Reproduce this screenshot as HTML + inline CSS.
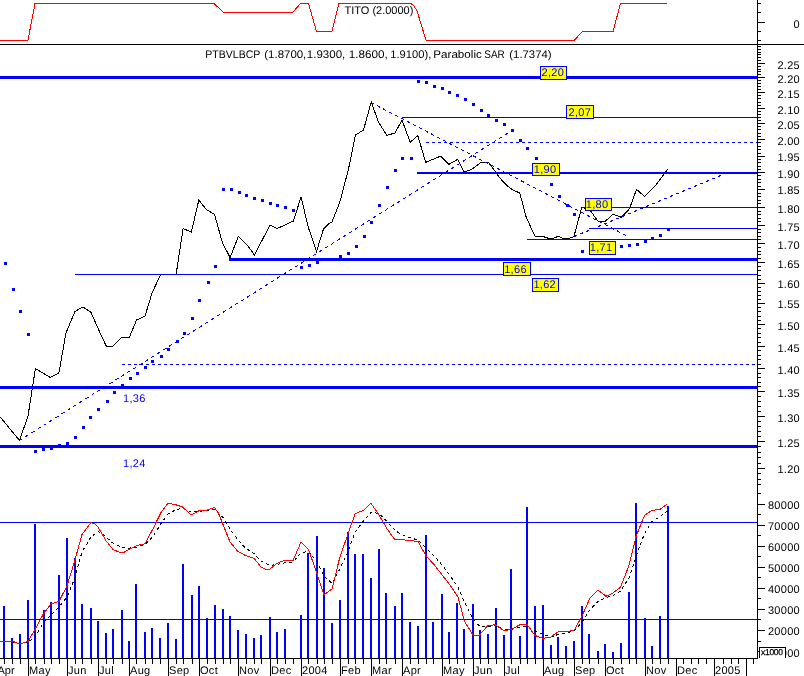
<!DOCTYPE html>
<html><head><meta charset="utf-8"><title>PTBVLBCP chart</title>
<style>
html,body{margin:0;padding:0;background:#fff;overflow:hidden}
svg{display:block;shape-rendering:crispEdges;text-rendering:geometricPrecision}
text{font-family:"Liberation Sans",Arial,sans-serif;fill:#000}
.ax{font-size:11px}
.lb{font-size:11px}
.sm{font-size:8.5px;stroke:#000;stroke-width:0.25px}
.an{letter-spacing:0.3px}
</style></head><body>
<svg width="804" height="676" viewBox="0 0 804 676">
<rect width="804" height="676" fill="#fff"/>
<polyline points="0.00,40.00 28.00,40.00 35.00,3.50 214.00,3.50 223.00,12.00 293.00,12.00 300.50,3.50 308.50,3.50 316.50,31.50 332.00,31.50 339.00,3.50 411.00,3.50 414.00,6.00 417.00,11.00 421.00,24.00 426.00,40.00 574.50,40.00 582.50,31.50 613.00,31.50 620.50,3.50 667.00,3.50" fill="none" stroke="#ff0000" stroke-width="1"/>
<rect x="0" y="44" width="804" height="1" fill="#000"/>
<rect x="758" y="3" width="3" height="1" fill="#000"/>
<rect x="758" y="12" width="3" height="1" fill="#000"/>
<rect x="758" y="22" width="7" height="1" fill="#000"/>
<rect x="758" y="31" width="3" height="1" fill="#000"/>
<rect x="758" y="40" width="3" height="1" fill="#000"/>
<polyline points="0.00,416.75 19.50,440.50 28.00,416.00 35.40,368.60 50.40,377.50 58.90,373.00 66.00,332.80 75.00,311.50 82.80,307.00 90.70,311.90 98.50,329.40 106.30,346.20 113.00,346.20 121.60,337.70 129.20,337.70 136.60,320.00 145.00,316.00 152.20,292.50 160.70,274.50 176.10,274.50 183.10,228.50 191.30,232.20 198.80,200.10 206.70,209.90 214.50,214.30 222.40,242.70 230.10,257.60 238.40,236.40 247.00,244.90 254.50,255.00 270.00,225.00 277.00,228.50 285.00,225.00 293.50,221.00 301.00,197.00 308.50,228.00 316.50,251.50 323.50,229.00 328.50,224.00 332.00,222.00 340.00,201.50 348.50,169.00 355.50,135.00 363.50,130.00 371.20,102.00 378.70,122.60 386.90,135.30 395.00,133.00 402.00,120.00 410.20,142.20 417.80,135.60 425.70,162.30 440.80,156.10 449.00,164.40 457.70,159.30 464.00,172.00 472.00,169.20 480.00,163.00 488.40,162.40 495.00,171.00 498.00,175.60 502.50,181.00 507.00,185.60 512.00,189.50 519.80,193.00 526.20,217.20 535.00,236.30 543.60,236.70 549.00,238.50 553.30,238.50 558.00,236.30 563.70,238.50 568.20,238.50 573.90,236.60 581.60,207.90 585.60,208.10 590.60,210.90 598.00,221.30 605.20,221.30 613.00,214.20 621.20,217.30 629.50,208.80 636.50,189.30 644.50,196.40 655.40,185.50 667.80,169.00" fill="none" stroke="#000" stroke-width="1"/>
<rect x="4" y="262" width="3" height="3" fill="#0000ff"/>
<rect x="12" y="288" width="3" height="3" fill="#0000ff"/>
<rect x="19" y="310" width="3" height="3" fill="#0000ff"/>
<rect x="27" y="333" width="3" height="3" fill="#0000ff"/>
<rect x="34" y="450" width="3" height="3" fill="#0000ff"/>
<rect x="42" y="448" width="3" height="3" fill="#0000ff"/>
<rect x="50" y="447" width="3" height="3" fill="#0000ff"/>
<rect x="58" y="444" width="3" height="3" fill="#0000ff"/>
<rect x="66" y="442" width="3" height="3" fill="#0000ff"/>
<rect x="74" y="436" width="3" height="3" fill="#0000ff"/>
<rect x="82" y="426" width="3" height="3" fill="#0000ff"/>
<rect x="89" y="416" width="3" height="3" fill="#0000ff"/>
<rect x="97" y="408" width="3" height="3" fill="#0000ff"/>
<rect x="106" y="400" width="3" height="3" fill="#0000ff"/>
<rect x="113" y="391" width="3" height="3" fill="#0000ff"/>
<rect x="121" y="384" width="3" height="3" fill="#0000ff"/>
<rect x="129" y="377" width="3" height="3" fill="#0000ff"/>
<rect x="136" y="372" width="3" height="3" fill="#0000ff"/>
<rect x="144" y="366" width="3" height="3" fill="#0000ff"/>
<rect x="151" y="360" width="3" height="3" fill="#0000ff"/>
<rect x="160" y="355" width="3" height="3" fill="#0000ff"/>
<rect x="167" y="348" width="3" height="3" fill="#0000ff"/>
<rect x="176" y="340" width="3" height="3" fill="#0000ff"/>
<rect x="183" y="332" width="3" height="3" fill="#0000ff"/>
<rect x="191" y="317" width="3" height="3" fill="#0000ff"/>
<rect x="198" y="299" width="3" height="3" fill="#0000ff"/>
<rect x="207" y="281" width="3" height="3" fill="#0000ff"/>
<rect x="214" y="265" width="3" height="3" fill="#0000ff"/>
<rect x="222" y="188" width="3" height="3" fill="#0000ff"/>
<rect x="230" y="188" width="3" height="3" fill="#0000ff"/>
<rect x="238" y="191" width="3" height="3" fill="#0000ff"/>
<rect x="245" y="194" width="3" height="3" fill="#0000ff"/>
<rect x="253" y="197" width="3" height="3" fill="#0000ff"/>
<rect x="261" y="199" width="3" height="3" fill="#0000ff"/>
<rect x="269" y="202" width="3" height="3" fill="#0000ff"/>
<rect x="276" y="204" width="3" height="3" fill="#0000ff"/>
<rect x="284" y="206" width="3" height="3" fill="#0000ff"/>
<rect x="292" y="209" width="3" height="3" fill="#0000ff"/>
<rect x="300" y="266" width="3" height="3" fill="#0000ff"/>
<rect x="308" y="264" width="3" height="3" fill="#0000ff"/>
<rect x="316" y="261" width="3" height="3" fill="#0000ff"/>
<rect x="324" y="258" width="3" height="3" fill="#0000ff"/>
<rect x="331" y="258" width="3" height="3" fill="#0000ff"/>
<rect x="339" y="255" width="3" height="3" fill="#0000ff"/>
<rect x="347" y="252" width="3" height="3" fill="#0000ff"/>
<rect x="355" y="245" width="3" height="3" fill="#0000ff"/>
<rect x="363" y="235" width="3" height="3" fill="#0000ff"/>
<rect x="370" y="221" width="3" height="3" fill="#0000ff"/>
<rect x="378" y="204" width="3" height="3" fill="#0000ff"/>
<rect x="386" y="186" width="3" height="3" fill="#0000ff"/>
<rect x="394" y="169" width="3" height="3" fill="#0000ff"/>
<rect x="401" y="157" width="3" height="3" fill="#0000ff"/>
<rect x="410" y="157" width="3" height="3" fill="#0000ff"/>
<rect x="417" y="80" width="3" height="3" fill="#0000ff"/>
<rect x="425" y="81" width="3" height="3" fill="#0000ff"/>
<rect x="433" y="85" width="3" height="3" fill="#0000ff"/>
<rect x="441" y="87" width="3" height="3" fill="#0000ff"/>
<rect x="448" y="91" width="3" height="3" fill="#0000ff"/>
<rect x="456" y="94" width="3" height="3" fill="#0000ff"/>
<rect x="464" y="98" width="3" height="3" fill="#0000ff"/>
<rect x="472" y="103" width="3" height="3" fill="#0000ff"/>
<rect x="480" y="109" width="3" height="3" fill="#0000ff"/>
<rect x="487" y="114" width="3" height="3" fill="#0000ff"/>
<rect x="495" y="119" width="3" height="3" fill="#0000ff"/>
<rect x="503" y="123" width="3" height="3" fill="#0000ff"/>
<rect x="511" y="129" width="3" height="3" fill="#0000ff"/>
<rect x="519" y="139" width="3" height="3" fill="#0000ff"/>
<rect x="526" y="147" width="3" height="3" fill="#0000ff"/>
<rect x="535" y="157" width="3" height="3" fill="#0000ff"/>
<rect x="543" y="170" width="3" height="3" fill="#0000ff"/>
<rect x="550" y="183" width="3" height="3" fill="#0000ff"/>
<rect x="558" y="195" width="3" height="3" fill="#0000ff"/>
<rect x="566" y="204" width="3" height="3" fill="#0000ff"/>
<rect x="573" y="213" width="3" height="3" fill="#0000ff"/>
<rect x="581" y="250" width="3" height="3" fill="#0000ff"/>
<rect x="589" y="249" width="3" height="3" fill="#0000ff"/>
<rect x="597" y="248" width="3" height="3" fill="#0000ff"/>
<rect x="605" y="247" width="3" height="3" fill="#0000ff"/>
<rect x="612" y="246" width="3" height="3" fill="#0000ff"/>
<rect x="620" y="245" width="3" height="3" fill="#0000ff"/>
<rect x="628" y="244" width="3" height="3" fill="#0000ff"/>
<rect x="636" y="243" width="3" height="3" fill="#0000ff"/>
<rect x="644" y="240" width="3" height="3" fill="#0000ff"/>
<rect x="651" y="237" width="3" height="3" fill="#0000ff"/>
<rect x="659" y="234" width="3" height="3" fill="#0000ff"/>
<rect x="667" y="228" width="3" height="3" fill="#0000ff"/>
<rect x="0" y="76" width="757" height="3" fill="#0000ff"/>
<rect x="402" y="117" width="355" height="1" fill="#0000ff"/>
<line x1="426" y1="142.5" x2="757" y2="142.5" stroke="#0000ff" stroke-width="1" stroke-dasharray="3 3"/>
<rect x="417" y="172" width="340" height="2" fill="#0000ff"/>
<rect x="582" y="207" width="175" height="1" fill="#0000ff"/>
<rect x="589" y="228" width="168" height="1" fill="#0000ff"/>
<rect x="527" y="239" width="230" height="1" fill="#0000ff"/>
<rect x="229" y="258" width="528" height="3" fill="#0000ff"/>
<rect x="75" y="274" width="682" height="1" fill="#0000ff"/>
<line x1="122" y1="364.5" x2="757" y2="364.5" stroke="#0000ff" stroke-width="1" stroke-dasharray="3 3"/>
<rect x="0" y="386" width="757" height="3" fill="#0000ff"/>
<rect x="0" y="445" width="757" height="3" fill="#0000ff"/>
<line x1="19.5" y1="440.5" x2="512" y2="130.5" stroke="#0000ff" stroke-width="1" stroke-dasharray="3.54 3.54"/>
<line x1="371" y1="102.5" x2="626" y2="235.5" stroke="#0000ff" stroke-width="1" stroke-dasharray="3.38 3.38"/>
<line x1="574" y1="236.6" x2="725.5" y2="173.5" stroke="#0000ff" stroke-width="1" stroke-dasharray="3.25 3.25"/>
<rect x="540.5" y="66.5" width="26" height="13" fill="#ffff00" stroke="#0000ff" stroke-width="1"/>
<text x="541.5" y="76" class="lb an" style="fill:#0000ff">2,20</text>
<rect x="566.5" y="105.5" width="27" height="13" fill="#ffff00" stroke="#0000ff" stroke-width="1"/>
<text x="568.5" y="116" class="lb an" style="fill:#0000ff">2,07</text>
<rect x="532.5" y="163.5" width="27" height="12" fill="#ffff00" stroke="#0000ff" stroke-width="1"/>
<text x="533.8" y="173" class="lb an" style="fill:#0000ff">1,90</text>
<rect x="585.5" y="198.5" width="26" height="12" fill="#ffff00" stroke="#0000ff" stroke-width="1"/>
<text x="585.8" y="208" class="lb an" style="fill:#0000ff">1,80</text>
<rect x="589.5" y="241.5" width="26" height="13" fill="#ffff00" stroke="#0000ff" stroke-width="1"/>
<text x="589.8" y="251" class="lb an" style="fill:#0000ff">1,71</text>
<rect x="503.5" y="262.5" width="27" height="13" fill="#ffff00" stroke="#0000ff" stroke-width="1"/>
<text x="504.2" y="273" class="lb an" style="fill:#0000ff">1,66</text>
<rect x="532.5" y="278.5" width="26" height="13" fill="#ffff00" stroke="#0000ff" stroke-width="1"/>
<text x="533.4" y="288" class="lb an" style="fill:#0000ff">1,62</text>
<text x="123" y="402" class="lb an" style="fill:#0000ff">1,36</text>
<text x="123" y="467" class="lb an" style="fill:#0000ff">1,24</text>
<rect x="757" y="0" width="1" height="659" fill="#000"/>
<rect x="758" y="484" width="3" height="1" fill="#000"/>
<rect x="758" y="479" width="3" height="1" fill="#000"/>
<rect x="758" y="473" width="3" height="1" fill="#000"/>
<rect x="758" y="468" width="7" height="1" fill="#000"/>
<text x="800" y="473" text-anchor="end" class="ax an">1.20</text>
<rect x="758" y="463" width="3" height="1" fill="#000"/>
<rect x="758" y="457" width="3" height="1" fill="#000"/>
<rect x="758" y="452" width="3" height="1" fill="#000"/>
<rect x="758" y="446" width="3" height="1" fill="#000"/>
<rect x="758" y="441" width="7" height="1" fill="#000"/>
<text x="800" y="447" text-anchor="end" class="ax an">1.25</text>
<rect x="758" y="436" width="3" height="1" fill="#000"/>
<rect x="758" y="431" width="3" height="1" fill="#000"/>
<rect x="758" y="426" width="3" height="1" fill="#000"/>
<rect x="758" y="421" width="3" height="1" fill="#000"/>
<rect x="758" y="416" width="7" height="1" fill="#000"/>
<text x="800" y="422" text-anchor="end" class="ax an">1.30</text>
<rect x="758" y="411" width="3" height="1" fill="#000"/>
<rect x="758" y="406" width="3" height="1" fill="#000"/>
<rect x="758" y="401" width="3" height="1" fill="#000"/>
<rect x="758" y="396" width="3" height="1" fill="#000"/>
<rect x="758" y="391" width="7" height="1" fill="#000"/>
<text x="800" y="397" text-anchor="end" class="ax an">1.35</text>
<rect x="758" y="386" width="3" height="1" fill="#000"/>
<rect x="758" y="382" width="3" height="1" fill="#000"/>
<rect x="758" y="377" width="3" height="1" fill="#000"/>
<rect x="758" y="373" width="3" height="1" fill="#000"/>
<rect x="758" y="368" width="7" height="1" fill="#000"/>
<text x="800" y="374" text-anchor="end" class="ax an">1.40</text>
<rect x="758" y="364" width="3" height="1" fill="#000"/>
<rect x="758" y="359" width="3" height="1" fill="#000"/>
<rect x="758" y="355" width="3" height="1" fill="#000"/>
<rect x="758" y="350" width="3" height="1" fill="#000"/>
<rect x="758" y="346" width="7" height="1" fill="#000"/>
<text x="800" y="352" text-anchor="end" class="ax an">1.45</text>
<rect x="758" y="342" width="3" height="1" fill="#000"/>
<rect x="758" y="337" width="3" height="1" fill="#000"/>
<rect x="758" y="333" width="3" height="1" fill="#000"/>
<rect x="758" y="328" width="3" height="1" fill="#000"/>
<rect x="758" y="324" width="7" height="1" fill="#000"/>
<text x="800" y="330" text-anchor="end" class="ax an">1.50</text>
<rect x="758" y="320" width="3" height="1" fill="#000"/>
<rect x="758" y="316" width="3" height="1" fill="#000"/>
<rect x="758" y="311" width="3" height="1" fill="#000"/>
<rect x="758" y="307" width="3" height="1" fill="#000"/>
<rect x="758" y="303" width="7" height="1" fill="#000"/>
<text x="800" y="308" text-anchor="end" class="ax an">1.55</text>
<rect x="758" y="299" width="3" height="1" fill="#000"/>
<rect x="758" y="295" width="3" height="1" fill="#000"/>
<rect x="758" y="291" width="3" height="1" fill="#000"/>
<rect x="758" y="287" width="3" height="1" fill="#000"/>
<rect x="758" y="283" width="7" height="1" fill="#000"/>
<text x="800" y="288" text-anchor="end" class="ax an">1.60</text>
<rect x="758" y="279" width="3" height="1" fill="#000"/>
<rect x="758" y="275" width="3" height="1" fill="#000"/>
<rect x="758" y="270" width="3" height="1" fill="#000"/>
<rect x="758" y="266" width="3" height="1" fill="#000"/>
<rect x="758" y="262" width="7" height="1" fill="#000"/>
<text x="800" y="268" text-anchor="end" class="ax an">1.65</text>
<rect x="758" y="258" width="3" height="1" fill="#000"/>
<rect x="758" y="254" width="3" height="1" fill="#000"/>
<rect x="758" y="251" width="3" height="1" fill="#000"/>
<rect x="758" y="247" width="3" height="1" fill="#000"/>
<rect x="758" y="243" width="7" height="1" fill="#000"/>
<text x="800" y="249" text-anchor="end" class="ax an">1.70</text>
<rect x="758" y="239" width="3" height="1" fill="#000"/>
<rect x="758" y="236" width="3" height="1" fill="#000"/>
<rect x="758" y="232" width="3" height="1" fill="#000"/>
<rect x="758" y="229" width="3" height="1" fill="#000"/>
<rect x="758" y="225" width="7" height="1" fill="#000"/>
<text x="800" y="231" text-anchor="end" class="ax an">1.75</text>
<rect x="758" y="221" width="3" height="1" fill="#000"/>
<rect x="758" y="218" width="3" height="1" fill="#000"/>
<rect x="758" y="214" width="3" height="1" fill="#000"/>
<rect x="758" y="211" width="3" height="1" fill="#000"/>
<rect x="758" y="207" width="7" height="1" fill="#000"/>
<text x="800" y="213" text-anchor="end" class="ax an">1.80</text>
<rect x="758" y="203" width="3" height="1" fill="#000"/>
<rect x="758" y="200" width="3" height="1" fill="#000"/>
<rect x="758" y="196" width="3" height="1" fill="#000"/>
<rect x="758" y="193" width="3" height="1" fill="#000"/>
<rect x="758" y="189" width="7" height="1" fill="#000"/>
<text x="800" y="194" text-anchor="end" class="ax an">1.85</text>
<rect x="758" y="186" width="3" height="1" fill="#000"/>
<rect x="758" y="182" width="3" height="1" fill="#000"/>
<rect x="758" y="179" width="3" height="1" fill="#000"/>
<rect x="758" y="175" width="3" height="1" fill="#000"/>
<rect x="758" y="172" width="7" height="1" fill="#000"/>
<text x="800" y="178" text-anchor="end" class="ax an">1.90</text>
<rect x="758" y="169" width="3" height="1" fill="#000"/>
<rect x="758" y="166" width="3" height="1" fill="#000"/>
<rect x="758" y="162" width="3" height="1" fill="#000"/>
<rect x="758" y="159" width="3" height="1" fill="#000"/>
<rect x="758" y="156" width="7" height="1" fill="#000"/>
<text x="800" y="161" text-anchor="end" class="ax an">1.95</text>
<rect x="758" y="153" width="3" height="1" fill="#000"/>
<rect x="758" y="149" width="3" height="1" fill="#000"/>
<rect x="758" y="146" width="3" height="1" fill="#000"/>
<rect x="758" y="142" width="3" height="1" fill="#000"/>
<rect x="758" y="139" width="7" height="1" fill="#000"/>
<text x="800" y="145" text-anchor="end" class="ax an">2.00</text>
<rect x="758" y="136" width="3" height="1" fill="#000"/>
<rect x="758" y="133" width="3" height="1" fill="#000"/>
<rect x="758" y="129" width="3" height="1" fill="#000"/>
<rect x="758" y="126" width="3" height="1" fill="#000"/>
<rect x="758" y="123" width="7" height="1" fill="#000"/>
<text x="800" y="129" text-anchor="end" class="ax an">2.05</text>
<rect x="758" y="120" width="3" height="1" fill="#000"/>
<rect x="758" y="117" width="3" height="1" fill="#000"/>
<rect x="758" y="114" width="3" height="1" fill="#000"/>
<rect x="758" y="111" width="3" height="1" fill="#000"/>
<rect x="758" y="108" width="7" height="1" fill="#000"/>
<text x="800" y="114" text-anchor="end" class="ax an">2.10</text>
<rect x="758" y="105" width="3" height="1" fill="#000"/>
<rect x="758" y="102" width="3" height="1" fill="#000"/>
<rect x="758" y="98" width="3" height="1" fill="#000"/>
<rect x="758" y="95" width="3" height="1" fill="#000"/>
<rect x="758" y="92" width="7" height="1" fill="#000"/>
<text x="800" y="98" text-anchor="end" class="ax an">2.15</text>
<rect x="758" y="89" width="3" height="1" fill="#000"/>
<rect x="758" y="86" width="3" height="1" fill="#000"/>
<rect x="758" y="83" width="3" height="1" fill="#000"/>
<rect x="758" y="80" width="3" height="1" fill="#000"/>
<rect x="758" y="77" width="7" height="1" fill="#000"/>
<text x="800" y="83" text-anchor="end" class="ax an">2.20</text>
<rect x="758" y="74" width="3" height="1" fill="#000"/>
<rect x="758" y="71" width="3" height="1" fill="#000"/>
<rect x="758" y="69" width="3" height="1" fill="#000"/>
<rect x="758" y="66" width="3" height="1" fill="#000"/>
<rect x="758" y="63" width="7" height="1" fill="#000"/>
<text x="800" y="69" text-anchor="end" class="ax an">2.25</text>
<rect x="758" y="60" width="3" height="1" fill="#000"/>
<rect x="758" y="57" width="3" height="1" fill="#000"/>
<rect x="758" y="54" width="3" height="1" fill="#000"/>
<rect x="758" y="52" width="3" height="1" fill="#000"/>
<rect x="758" y="49" width="3" height="1" fill="#000"/>
<rect x="758" y="46" width="3" height="1" fill="#000"/>
<text x="800" y="28" text-anchor="end" class="ax an">0</text>
<rect x="758" y="651" width="7" height="1" fill="#000"/>
<rect x="758" y="641" width="3" height="1" fill="#000"/>
<text x="800" y="657" text-anchor="end" class="ax an">10000</text>
<rect x="758" y="630" width="7" height="1" fill="#000"/>
<rect x="758" y="619" width="3" height="1" fill="#000"/>
<text x="800" y="635" text-anchor="end" class="ax an">20000</text>
<rect x="758" y="609" width="7" height="1" fill="#000"/>
<rect x="758" y="598" width="3" height="1" fill="#000"/>
<text x="800" y="614" text-anchor="end" class="ax an">30000</text>
<rect x="758" y="588" width="7" height="1" fill="#000"/>
<rect x="758" y="577" width="3" height="1" fill="#000"/>
<text x="800" y="593" text-anchor="end" class="ax an">40000</text>
<rect x="758" y="567" width="7" height="1" fill="#000"/>
<rect x="758" y="556" width="3" height="1" fill="#000"/>
<text x="800" y="572" text-anchor="end" class="ax an">50000</text>
<rect x="758" y="546" width="7" height="1" fill="#000"/>
<rect x="758" y="535" width="3" height="1" fill="#000"/>
<text x="800" y="551" text-anchor="end" class="ax an">60000</text>
<rect x="758" y="525" width="7" height="1" fill="#000"/>
<rect x="758" y="514" width="3" height="1" fill="#000"/>
<text x="800" y="530" text-anchor="end" class="ax an">70000</text>
<rect x="758" y="504" width="7" height="1" fill="#000"/>
<rect x="758" y="493" width="3" height="1" fill="#000"/>
<text x="800" y="509" text-anchor="end" class="ax an">80000</text>
<rect x="759" y="647" width="27" height="11" fill="#fff"/><path d="M759.5 658V647.5H785.5V658" fill="none" stroke="#000" stroke-width="1"/>
<text x="761" y="655" class="sm" textLength="22" lengthAdjust="spacing">x1000</text>
<rect x="0" y="522" width="757" height="1" fill="#0000ff"/>
<rect x="0" y="619" width="757" height="1" fill="#0000ff"/>
<rect x="3" y="606" width="2" height="52" fill="#0000ff"/>
<rect x="11" y="638" width="2" height="20" fill="#0000ff"/>
<rect x="19" y="634" width="2" height="24" fill="#0000ff"/>
<rect x="27" y="600" width="2" height="58" fill="#0000ff"/>
<rect x="34" y="524" width="2" height="134" fill="#0000ff"/>
<rect x="43" y="610" width="2" height="48" fill="#0000ff"/>
<rect x="50" y="602" width="2" height="56" fill="#0000ff"/>
<rect x="58" y="575" width="2" height="83" fill="#0000ff"/>
<rect x="66" y="538" width="2" height="120" fill="#0000ff"/>
<rect x="74" y="558" width="2" height="100" fill="#0000ff"/>
<rect x="81" y="604" width="2" height="54" fill="#0000ff"/>
<rect x="90" y="608" width="2" height="50" fill="#0000ff"/>
<rect x="97" y="621" width="2" height="37" fill="#0000ff"/>
<rect x="105" y="633" width="2" height="25" fill="#0000ff"/>
<rect x="112" y="629" width="2" height="29" fill="#0000ff"/>
<rect x="121" y="610" width="2" height="48" fill="#0000ff"/>
<rect x="128" y="641" width="2" height="17" fill="#0000ff"/>
<rect x="135" y="584" width="2" height="74" fill="#0000ff"/>
<rect x="144" y="632" width="2" height="26" fill="#0000ff"/>
<rect x="151" y="628" width="2" height="30" fill="#0000ff"/>
<rect x="159" y="638" width="2" height="20" fill="#0000ff"/>
<rect x="167" y="623" width="2" height="35" fill="#0000ff"/>
<rect x="175" y="639" width="2" height="19" fill="#0000ff"/>
<rect x="182" y="564" width="2" height="94" fill="#0000ff"/>
<rect x="191" y="595" width="2" height="63" fill="#0000ff"/>
<rect x="198" y="586" width="2" height="72" fill="#0000ff"/>
<rect x="206" y="618" width="2" height="40" fill="#0000ff"/>
<rect x="214" y="605" width="2" height="53" fill="#0000ff"/>
<rect x="222" y="609" width="2" height="49" fill="#0000ff"/>
<rect x="229" y="616" width="2" height="42" fill="#0000ff"/>
<rect x="237" y="630" width="2" height="28" fill="#0000ff"/>
<rect x="245" y="634" width="2" height="24" fill="#0000ff"/>
<rect x="253" y="638" width="2" height="20" fill="#0000ff"/>
<rect x="260" y="635" width="2" height="23" fill="#0000ff"/>
<rect x="269" y="617" width="2" height="41" fill="#0000ff"/>
<rect x="276" y="632" width="2" height="26" fill="#0000ff"/>
<rect x="284" y="629" width="2" height="29" fill="#0000ff"/>
<rect x="300" y="615" width="2" height="43" fill="#0000ff"/>
<rect x="307" y="553" width="2" height="105" fill="#0000ff"/>
<rect x="316" y="536" width="2" height="122" fill="#0000ff"/>
<rect x="323" y="568" width="2" height="90" fill="#0000ff"/>
<rect x="331" y="623" width="2" height="35" fill="#0000ff"/>
<rect x="339" y="600" width="2" height="58" fill="#0000ff"/>
<rect x="347" y="532" width="2" height="126" fill="#0000ff"/>
<rect x="354" y="554" width="2" height="104" fill="#0000ff"/>
<rect x="362" y="554" width="2" height="104" fill="#0000ff"/>
<rect x="370" y="578" width="2" height="80" fill="#0000ff"/>
<rect x="378" y="549" width="2" height="109" fill="#0000ff"/>
<rect x="385" y="593" width="2" height="65" fill="#0000ff"/>
<rect x="394" y="606" width="2" height="52" fill="#0000ff"/>
<rect x="401" y="593" width="2" height="65" fill="#0000ff"/>
<rect x="409" y="622" width="2" height="36" fill="#0000ff"/>
<rect x="417" y="626" width="2" height="32" fill="#0000ff"/>
<rect x="425" y="535" width="2" height="123" fill="#0000ff"/>
<rect x="432" y="622" width="2" height="36" fill="#0000ff"/>
<rect x="441" y="594" width="2" height="64" fill="#0000ff"/>
<rect x="448" y="632" width="2" height="26" fill="#0000ff"/>
<rect x="456" y="603" width="2" height="55" fill="#0000ff"/>
<rect x="463" y="629" width="2" height="29" fill="#0000ff"/>
<rect x="472" y="604" width="2" height="54" fill="#0000ff"/>
<rect x="479" y="630" width="2" height="28" fill="#0000ff"/>
<rect x="487" y="634" width="2" height="24" fill="#0000ff"/>
<rect x="495" y="608" width="2" height="50" fill="#0000ff"/>
<rect x="503" y="635" width="2" height="23" fill="#0000ff"/>
<rect x="510" y="569" width="2" height="89" fill="#0000ff"/>
<rect x="519" y="636" width="2" height="22" fill="#0000ff"/>
<rect x="526" y="507" width="2" height="151" fill="#0000ff"/>
<rect x="534" y="606" width="2" height="52" fill="#0000ff"/>
<rect x="542" y="605" width="2" height="53" fill="#0000ff"/>
<rect x="550" y="645" width="2" height="13" fill="#0000ff"/>
<rect x="557" y="637" width="2" height="21" fill="#0000ff"/>
<rect x="565" y="646" width="2" height="12" fill="#0000ff"/>
<rect x="573" y="641" width="2" height="17" fill="#0000ff"/>
<rect x="581" y="606" width="2" height="52" fill="#0000ff"/>
<rect x="588" y="634" width="2" height="24" fill="#0000ff"/>
<rect x="597" y="651" width="2" height="7" fill="#0000ff"/>
<rect x="604" y="644" width="2" height="14" fill="#0000ff"/>
<rect x="612" y="652" width="2" height="6" fill="#0000ff"/>
<rect x="620" y="643" width="2" height="15" fill="#0000ff"/>
<rect x="628" y="592" width="2" height="66" fill="#0000ff"/>
<rect x="635" y="503" width="2" height="155" fill="#0000ff"/>
<rect x="644" y="618" width="2" height="40" fill="#0000ff"/>
<rect x="651" y="646" width="2" height="12" fill="#0000ff"/>
<rect x="659" y="616" width="2" height="42" fill="#0000ff"/>
<rect x="667" y="506" width="2" height="152" fill="#0000ff"/>
<rect x="0" y="658" width="758" height="1" fill="#000"/>
<rect x="4" y="659" width="1" height="5" fill="#000"/>
<rect x="12" y="659" width="1" height="5" fill="#000"/>
<rect x="20" y="659" width="1" height="5" fill="#000"/>
<rect x="28" y="659" width="1" height="17" fill="#000"/>
<text x="29" y="674" class="ax an">May</text>
<rect x="35" y="659" width="1" height="5" fill="#000"/>
<rect x="44" y="659" width="1" height="5" fill="#000"/>
<rect x="51" y="659" width="1" height="5" fill="#000"/>
<rect x="59" y="659" width="1" height="5" fill="#000"/>
<rect x="67" y="659" width="1" height="17" fill="#000"/>
<text x="68" y="674" class="ax an">Jun</text>
<rect x="75" y="659" width="1" height="5" fill="#000"/>
<rect x="82" y="659" width="1" height="5" fill="#000"/>
<rect x="91" y="659" width="1" height="5" fill="#000"/>
<rect x="98" y="659" width="1" height="17" fill="#000"/>
<text x="99" y="674" class="ax an">Jul</text>
<rect x="106" y="659" width="1" height="5" fill="#000"/>
<rect x="113" y="659" width="1" height="5" fill="#000"/>
<rect x="122" y="659" width="1" height="5" fill="#000"/>
<rect x="129" y="659" width="1" height="17" fill="#000"/>
<text x="130" y="674" class="ax an">Aug</text>
<rect x="136" y="659" width="1" height="5" fill="#000"/>
<rect x="145" y="659" width="1" height="5" fill="#000"/>
<rect x="152" y="659" width="1" height="5" fill="#000"/>
<rect x="160" y="659" width="1" height="5" fill="#000"/>
<rect x="168" y="659" width="1" height="17" fill="#000"/>
<text x="169" y="674" class="ax an">Sep</text>
<rect x="176" y="659" width="1" height="5" fill="#000"/>
<rect x="183" y="659" width="1" height="5" fill="#000"/>
<rect x="192" y="659" width="1" height="5" fill="#000"/>
<rect x="199" y="659" width="1" height="17" fill="#000"/>
<text x="200" y="674" class="ax an">Oct</text>
<rect x="207" y="659" width="1" height="5" fill="#000"/>
<rect x="215" y="659" width="1" height="5" fill="#000"/>
<rect x="223" y="659" width="1" height="5" fill="#000"/>
<rect x="230" y="659" width="1" height="5" fill="#000"/>
<rect x="238" y="659" width="1" height="17" fill="#000"/>
<text x="239" y="674" class="ax an">Nov</text>
<rect x="246" y="659" width="1" height="5" fill="#000"/>
<rect x="254" y="659" width="1" height="5" fill="#000"/>
<rect x="261" y="659" width="1" height="5" fill="#000"/>
<rect x="270" y="659" width="1" height="17" fill="#000"/>
<text x="271" y="674" class="ax an">Dec</text>
<rect x="277" y="659" width="1" height="5" fill="#000"/>
<rect x="285" y="659" width="1" height="5" fill="#000"/>
<rect x="293" y="659" width="1" height="5" fill="#000"/>
<rect x="301" y="659" width="1" height="17" fill="#000"/>
<text x="302" y="674" class="ax an">2004</text>
<rect x="308" y="659" width="1" height="5" fill="#000"/>
<rect x="317" y="659" width="1" height="5" fill="#000"/>
<rect x="324" y="659" width="1" height="5" fill="#000"/>
<rect x="332" y="659" width="1" height="5" fill="#000"/>
<rect x="340" y="659" width="1" height="17" fill="#000"/>
<text x="341" y="674" class="ax an">Feb</text>
<rect x="348" y="659" width="1" height="5" fill="#000"/>
<rect x="355" y="659" width="1" height="5" fill="#000"/>
<rect x="363" y="659" width="1" height="5" fill="#000"/>
<rect x="371" y="659" width="1" height="17" fill="#000"/>
<text x="372" y="674" class="ax an">Mar</text>
<rect x="379" y="659" width="1" height="5" fill="#000"/>
<rect x="386" y="659" width="1" height="5" fill="#000"/>
<rect x="395" y="659" width="1" height="5" fill="#000"/>
<rect x="402" y="659" width="1" height="17" fill="#000"/>
<text x="403" y="674" class="ax an">Apr</text>
<rect x="410" y="659" width="1" height="5" fill="#000"/>
<rect x="418" y="659" width="1" height="5" fill="#000"/>
<rect x="426" y="659" width="1" height="5" fill="#000"/>
<rect x="433" y="659" width="1" height="5" fill="#000"/>
<rect x="442" y="659" width="1" height="17" fill="#000"/>
<text x="443" y="674" class="ax an">May</text>
<rect x="449" y="659" width="1" height="5" fill="#000"/>
<rect x="457" y="659" width="1" height="5" fill="#000"/>
<rect x="464" y="659" width="1" height="5" fill="#000"/>
<rect x="473" y="659" width="1" height="17" fill="#000"/>
<text x="474" y="674" class="ax an">Jun</text>
<rect x="480" y="659" width="1" height="5" fill="#000"/>
<rect x="488" y="659" width="1" height="5" fill="#000"/>
<rect x="496" y="659" width="1" height="5" fill="#000"/>
<rect x="504" y="659" width="1" height="17" fill="#000"/>
<text x="505" y="674" class="ax an">Jul</text>
<rect x="511" y="659" width="1" height="5" fill="#000"/>
<rect x="520" y="659" width="1" height="5" fill="#000"/>
<rect x="527" y="659" width="1" height="5" fill="#000"/>
<rect x="535" y="659" width="1" height="5" fill="#000"/>
<rect x="543" y="659" width="1" height="17" fill="#000"/>
<text x="544" y="674" class="ax an">Aug</text>
<rect x="551" y="659" width="1" height="5" fill="#000"/>
<rect x="558" y="659" width="1" height="5" fill="#000"/>
<rect x="566" y="659" width="1" height="5" fill="#000"/>
<rect x="574" y="659" width="1" height="17" fill="#000"/>
<text x="575" y="674" class="ax an">Sep</text>
<rect x="582" y="659" width="1" height="5" fill="#000"/>
<rect x="589" y="659" width="1" height="5" fill="#000"/>
<rect x="598" y="659" width="1" height="5" fill="#000"/>
<rect x="605" y="659" width="1" height="17" fill="#000"/>
<text x="606" y="674" class="ax an">Oct</text>
<rect x="613" y="659" width="1" height="5" fill="#000"/>
<rect x="621" y="659" width="1" height="5" fill="#000"/>
<rect x="629" y="659" width="1" height="5" fill="#000"/>
<rect x="636" y="659" width="1" height="5" fill="#000"/>
<rect x="645" y="659" width="1" height="17" fill="#000"/>
<text x="646" y="674" class="ax an">Nov</text>
<rect x="652" y="659" width="1" height="5" fill="#000"/>
<rect x="660" y="659" width="1" height="5" fill="#000"/>
<rect x="668" y="659" width="1" height="5" fill="#000"/>
<rect x="676" y="659" width="1" height="17" fill="#000"/>
<text x="677" y="674" class="ax an">Dec</text>
<rect x="683" y="659" width="1" height="5" fill="#000"/>
<rect x="691" y="659" width="1" height="5" fill="#000"/>
<rect x="698" y="659" width="1" height="5" fill="#000"/>
<rect x="706" y="659" width="1" height="5" fill="#000"/>
<rect x="714" y="659" width="1" height="17" fill="#000"/>
<text x="715" y="674" class="ax an">2005</text>
<rect x="723" y="659" width="1" height="5" fill="#000"/>
<rect x="731" y="659" width="1" height="5" fill="#000"/>
<rect x="738" y="659" width="1" height="5" fill="#000"/>
<rect x="746" y="659" width="1" height="17" fill="#000"/>
<rect x="753" y="659" width="1" height="5" fill="#000"/>
<text x="-2.5" y="674" class="ax">Apr</text>
<polyline points="0.00,641.50 12.50,642.00 20.00,643.50 28.00,642.00 35.00,637.00 43.75,622.00 51.00,615.00 59.00,607.00 67.00,597.00 74.75,578.25 82.00,552.00 91.00,537.00 98.00,531.50 102.50,533.25 106.00,537.00 113.00,543.25 122.00,547.20 129.00,548.10 137.00,547.00 145.00,544.50 153.00,536.60 161.00,523.50 168.00,514.20 176.00,509.50 183.00,508.25 191.25,512.20 199.50,511.30 207.50,510.50 214.50,509.50 223.00,517.50 230.00,529.00 238.00,540.00 246.00,548.50 254.00,553.50 261.00,561.20 270.00,565.40 277.00,564.50 285.00,562.70 293.00,562.00 301.00,553.00 308.50,551.00 317.00,562.20 324.00,576.00 332.00,583.50 339.75,569.20 348.00,551.60 355.00,532.20 363.00,521.60 371.00,512.20 379.00,513.50 387.00,521.60 395.00,530.40 402.00,534.70 410.00,537.60 418.00,540.10 426.00,547.90 433.50,555.40 442.00,564.80 450.00,575.40 458.00,587.20 464.50,602.20 473.00,618.50 480.00,626.80 487.50,626.40 495.00,625.60 504.00,629.00 511.00,629.50 520.00,627.00 527.00,626.50 535.00,630.75 543.00,634.50 551.00,637.00 558.00,634.50 566.00,633.25 574.00,630.75 582.00,622.20 590.00,609.80 598.00,601.60 606.00,597.50 613.00,595.40 620.50,591.00 629.00,578.00 636.00,556.60 644.50,533.50 652.00,521.60 660.00,516.60 667.50,511.00" fill="none" stroke="#000" stroke-width="1" stroke-dasharray="3 3"/>
<polyline points="0.00,641.50 7.50,642.00 12.50,641.25 20.00,644.00 28.00,641.50 35.00,629.50 43.75,613.25 51.00,604.00 59.00,601.50 67.00,585.75 74.75,560.75 82.00,534.50 91.00,522.50 95.00,524.00 98.00,527.00 106.00,540.75 113.00,549.50 120.00,552.50 123.75,552.50 129.00,549.50 137.00,545.50 145.00,543.75 153.00,528.75 161.00,512.50 168.00,503.25 175.00,504.50 182.50,507.00 191.25,515.00 199.50,510.50 207.50,510.00 214.50,507.50 218.50,513.25 223.00,524.50 230.00,542.00 238.00,551.50 246.00,555.75 254.00,558.25 261.00,567.00 264.75,569.00 270.00,569.00 277.00,563.25 285.00,560.25 293.00,560.75 301.00,542.00 308.50,549.50 317.00,573.50 324.00,595.00 332.00,589.00 339.75,557.50 348.00,534.00 355.00,514.00 359.00,512.00 363.00,510.75 371.00,503.25 379.00,515.00 387.00,528.75 395.00,540.00 402.00,539.50 410.00,540.75 418.00,541.25 426.00,556.00 433.50,564.00 442.00,574.75 450.00,585.00 458.00,597.00 464.50,621.50 473.00,635.00 479.50,635.00 487.50,626.00 495.00,624.75 504.00,630.75 511.00,629.50 520.00,624.75 527.00,624.50 535.00,635.50 543.00,638.25 551.00,637.00 558.50,631.40 566.50,632.00 574.50,629.75 582.00,616.00 590.00,598.00 598.00,590.20 606.00,596.25 613.00,593.00 620.50,587.20 629.00,565.50 636.00,536.50 644.50,515.40 652.00,510.40 660.00,509.40 667.00,504.25" fill="none" stroke="#ff0000" stroke-width="1"/>
<text x="344.5" y="14" class="ax tt">TITO (2.0000)</text>
<text x="205.3" y="58" class="ax" textLength="55.0" lengthAdjust="spacingAndGlyphs">PTBVLBCP</text>
<text x="264.3" y="58" class="ax" textLength="42.0" lengthAdjust="spacingAndGlyphs">(1.8700,</text>
<text x="306.8" y="58" class="ax" textLength="38.5" lengthAdjust="spacingAndGlyphs">1.9300,</text>
<text x="348.8" y="58" class="ax" textLength="39.0" lengthAdjust="spacingAndGlyphs">1.8600,</text>
<text x="390.3" y="58" class="ax" textLength="41.0" lengthAdjust="spacingAndGlyphs">1.9100),</text>
<text x="433.3" y="58" class="ax" textLength="48.5" lengthAdjust="spacingAndGlyphs">Parabolic</text>
<text x="484.3" y="58" class="ax" textLength="20.5" lengthAdjust="spacingAndGlyphs">SAR</text>
<text x="509.3" y="58" class="ax" textLength="42.3" lengthAdjust="spacingAndGlyphs">(1.7374)</text>
</svg>
</body></html>
